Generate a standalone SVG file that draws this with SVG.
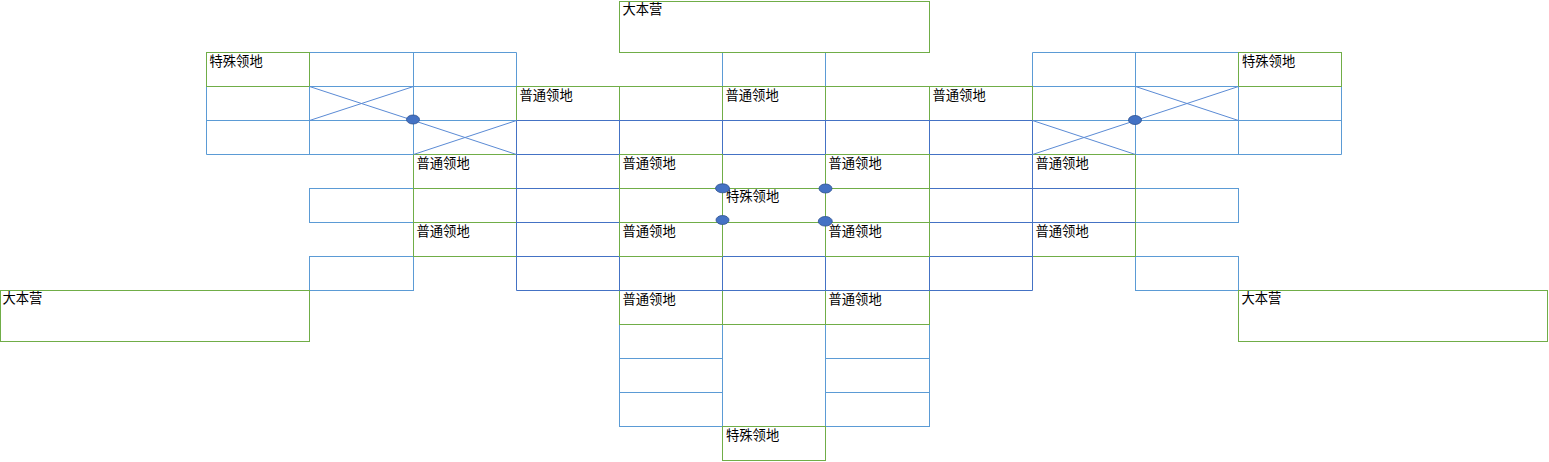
<svg xmlns="http://www.w3.org/2000/svg" width="1549" height="462" viewBox="0 0 1549 462">
<style>
.lb{fill:none;stroke:#5B9BD5;stroke-width:1}
.db{fill:none;stroke:#4472C4;stroke-width:1}
.g{fill:none;stroke:#70AD47;stroke-width:1}
.x{fill:none;stroke:#5B8BD5;stroke-width:1}
.dot{fill:#4472C4;stroke:#2F528F;stroke-width:0.8}
text{font-family:"Noto Sans CJK SC","Microsoft YaHei",sans-serif;font-size:13.3px;fill:#000}
</style>
<rect width="1549" height="462" fill="#fff"/>

<!-- light blue cells -->
<g id="blocks-light">
<path class="lb" d="M206.5 52.5H516.5V154.5H206.5Z M309.5 52.5V154.5 M413.5 52.5V154.5 M206.5 86.5H516.5 M206.5 120.5H516.5"/>
<path class="lb" d="M1032.5 52.5H1341.5V154.5H1032.5Z M1135.5 52.5V154.5 M1238.5 52.5V154.5 M1032.5 86.5H1341.5 M1032.5 120.5H1341.5"/>
<rect class="lb" x="722.5" y="52.5" width="103" height="34"/>
<rect class="lb" x="309.5" y="188.5" width="104" height="34"/>
<rect class="lb" x="309.5" y="256.5" width="104" height="34"/>
<rect class="lb" x="1135.5" y="188.5" width="103" height="34"/>
<rect class="lb" x="1135.5" y="256.5" width="103" height="34"/>
<rect class="lb" x="619.5" y="324.5" width="103" height="34"/>
<rect class="lb" x="619.5" y="358.5" width="103" height="34"/>
<rect class="lb" x="619.5" y="392.5" width="103" height="34"/>
<rect class="lb" x="722.5" y="324.5" width="103" height="102"/>
<rect class="lb" x="825.5" y="324.5" width="104" height="34"/>
<rect class="lb" x="825.5" y="358.5" width="104" height="34"/>
<rect class="lb" x="825.5" y="392.5" width="104" height="34"/>
</g>

<!-- green cells drawn under the central grid -->
<g id="row-top">
<rect class="g" x="516.5" y="86.5" width="103" height="34"/>
<rect class="g" x="619.5" y="86.5" width="103" height="34"/>
<rect class="g" x="722.5" y="86.5" width="103" height="34"/>
<rect class="g" x="825.5" y="86.5" width="104" height="34"/>
<rect class="g" x="929.5" y="86.5" width="103" height="34"/>
<text x="519.5" y="100">普通领地</text>
<text x="725.5" y="100">普通领地</text>
<text x="932.5" y="100">普通领地</text>
</g>
<g id="arm-left">
<rect class="g" x="413.5" y="154.5" width="103" height="34"/>
<rect class="g" x="413.5" y="188.5" width="103" height="34"/>
<rect class="g" x="413.5" y="222.5" width="103" height="34"/>
<text x="416.5" y="168">普通领地</text>
<text x="416.5" y="236">普通领地</text>
</g>
<g id="arm-right">
<rect class="g" x="1032.5" y="154.5" width="103" height="34"/>
<rect class="g" x="1032.5" y="188.5" width="103" height="34"/>
<rect class="g" x="1032.5" y="222.5" width="103" height="34"/>
<text x="1035.5" y="168">普通领地</text>
<text x="1035.5" y="236">普通领地</text>
</g>
<g id="row-bottom">
<rect class="g" x="619.5" y="290.5" width="103" height="34"/>
<rect class="g" x="722.5" y="290.5" width="103" height="34"/>
<rect class="g" x="825.5" y="290.5" width="104" height="34"/>
<text x="622.5" y="304">普通领地</text>
<text x="828.5" y="304">普通领地</text>
</g>
<g id="special-bottom">
<rect class="g" x="722.5" y="426.5" width="103" height="34"/>
<text x="726" y="439.5">特殊领地</text>
</g>
<g id="special-topleft">
<rect class="g" x="206.5" y="52.5" width="103" height="34"/>
<text x="209.5" y="65.5">特殊领地</text>
</g>
<g id="special-topright">
<rect class="g" x="1238.5" y="52.5" width="103" height="34"/>
<text x="1242" y="65.5">特殊领地</text>
</g>
<g id="hq-top">
<rect class="g" x="619.5" y="1.5" width="310" height="51"/>
<text x="622.5" y="14">大本营</text>
</g>
<g id="hq-left">
<rect class="g" x="0.5" y="290.5" width="309" height="51"/>
<text x="2.5" y="303">大本营</text>
</g>
<g id="hq-right">
<rect class="g" x="1238.5" y="290.5" width="309" height="51"/>
<text x="1241.5" y="303">大本营</text>
</g>

<!-- central dark grid -->
<g id="center-grid">
<path class="db" d="M516.5 120.5H1032.5V290.5H516.5Z M619.5 120.5V290.5 M722.5 120.5V290.5 M825.5 120.5V290.5 M929.5 120.5V290.5 M516.5 154.5H1032.5 M516.5 188.5H1032.5 M516.5 222.5H1032.5 M516.5 256.5H1032.5"/>
<path class="db" d="M1032.5 188.5H1135.5 M1032.5 222.5H1135.5"/>
</g>

<!-- green cells over the central grid -->
<g id="center-left">
<rect class="g" x="619.5" y="154.5" width="103" height="34"/>
<rect class="g" x="619.5" y="188.5" width="103" height="34"/>
<rect class="g" x="619.5" y="222.5" width="103" height="34"/>
<text x="622.5" y="168">普通领地</text>
<text x="622.5" y="236">普通领地</text>
</g>
<g id="center-right">
<rect class="g" x="825.5" y="154.5" width="104" height="34"/>
<rect class="g" x="825.5" y="188.5" width="104" height="34"/>
<rect class="g" x="825.5" y="222.5" width="104" height="34"/>
<text x="828.5" y="168">普通领地</text>
<text x="828.5" y="236">普通领地</text>
</g>
<g id="special-center">
<rect class="g" x="722.5" y="188.5" width="103" height="34"/>
<text x="726" y="201">特殊领地</text>
</g>

<!-- connectors: diagonal links and junction dots -->
<g id="connectors">
<path class="x" d="M309.5 86.5L413.5 120.5 M309.5 120.5L413.5 86.5 M413.5 120.5L516.5 154.5 M413.5 154.5L516.5 120.5"/>
<path class="x" d="M1135.5 86.5L1238.5 120.5 M1135.5 120.5L1238.5 86.5 M1032.5 120.5L1135.5 154.5 M1032.5 154.5L1135.5 120.5"/>
<ellipse class="dot" cx="413" cy="119.5" rx="6.5" ry="4.5"/>
<ellipse class="dot" cx="1135" cy="120" rx="6.5" ry="4.5"/>
<ellipse class="dot" cx="722.5" cy="188.3" rx="7" ry="4.5"/>
<ellipse class="dot" cx="825.5" cy="188.5" rx="6.5" ry="4.5"/>
<ellipse class="dot" cx="722.5" cy="220" rx="6.5" ry="4.5"/>
<ellipse class="dot" cx="825.3" cy="221.3" rx="7" ry="4.8"/>
</g>
</svg>
